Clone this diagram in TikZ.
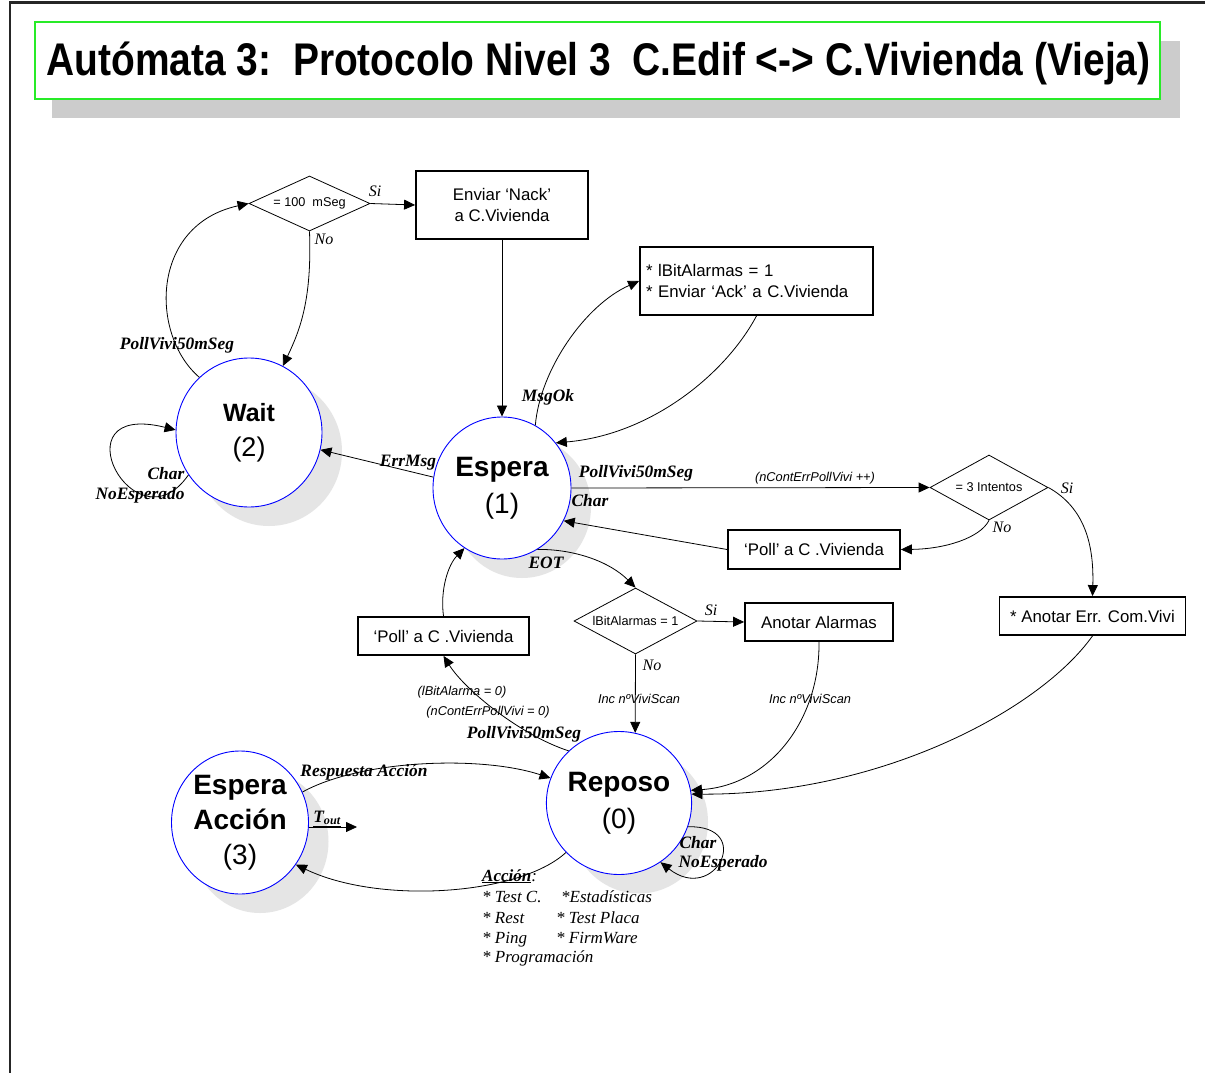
\documentclass[tikz,border=0pt]{standalone}
\usepackage{fontspec}
\setmainfont{Liberation Sans}
\newfontfamily\serifit{Liberation Serif}
\newfontfamily\titlefont{Liberation Sans}[FakeStretch=0.85]
\usetikzlibrary{shapes.geometric,arrows.meta}
\definecolor{framegreen}{RGB}{40,235,40}
\begin{document}
\begin{tikzpicture}[x=1pt,y=-1pt,
  lbl/.style={font=\fontsize{17.4}{19}\selectfont\serifit\bfseries\itshape, inner sep=0},
  yn/.style={font=\fontsize{16}{18}\selectfont\serifit\itshape, inner sep=0},
  smallnote/.style={font=\fontsize{12.8}{14}\selectfont\itshape, inner sep=0},
  actline/.style={font=\fontsize{17}{19}\selectfont\serifit\itshape, inner sep=0, anchor=base west},
  box/.style={draw, line width=1.8pt, fill=white, inner sep=0, font=\fontsize{16.8}{21}\selectfont, align=center},
  dec/.style={draw, shape=diamond, shape aspect=2, inner sep=0, line width=0.8pt, fill=white, font=\fontsize{12.7}{14}\selectfont},
  stnode/.style={draw=blue, line width=0.9pt, ellipse, fill=white, inner sep=0, align=center},
  stshadow/.style={ellipse, fill=black!10, inner sep=0},
  arr/.style={-{Triangle[length=11pt,width=10pt]}, line width=0.8pt}
]
\useasboundingbox (0,0) rectangle (1205,1073);
\fill[white] (0,0) rectangle (1205,1073);

% page frame
\draw[line width=2.2pt, black!85] (10,1073) -- (10,2.5) -- (1205,2.5);

% title banner
\fill[black!20] (52,41) rectangle (1180,118);
\node[draw=framegreen, line width=1.2pt, fill=white, minimum width=1125pt, minimum height=77pt, inner sep=0] (title) at (597.5,60.5) {};
\node[font=\titlefont\bfseries\fontsize{45.8}{50}\selectfont, inner sep=0] (titletext) at (598.5,63)
  {Autómata 3:\ \ Protocolo Nivel 3\ \ C.Edif <-> C.Vivienda (Vieja)};

% state shadows
\node[stshadow, minimum width=146pt, minimum height=149pt] (waitsh) at (269,451.5) {};
\node[stshadow, minimum width=138pt, minimum height=142pt] (esperash) at (522,507) {};
\node[stshadow, minimum width=138pt, minimum height=143pt] (reposh) at (639,822) {};
\node[stshadow, minimum width=137pt, minimum height=143pt] (accionsh) at (260,841.5) {};

% states
\node[stnode, minimum width=146pt, minimum height=149pt, font=\fontsize{25}{35}\selectfont] (wait) at (249,432.5)
  {{\bfseries Wait}\\{\fontsize{27}{35}\selectfont (2)}};
\node[stnode, minimum width=138pt, minimum height=142pt, font=\fontsize{28}{37}\selectfont] (espera) at (502,488)
  {{\bfseries Espera}\\(1)};
\node[stnode, minimum width=138pt, minimum height=143pt, font=\fontsize{28}{37}\selectfont] (reposo) at (619,803)
  {{\bfseries Reposo}\\(0)};
\node[stnode, minimum width=137pt, minimum height=143pt, font=\fontsize{28}{35}\selectfont] (accion) at (240,822.5)
  {{\bfseries Espera}\\{\bfseries Acción}\\(3)};

% decisions
\node[dec, minimum width=121pt, minimum height=55pt] (d100) at (309.5,203.5) {= 100\ \ mSeg};
\node[dec, minimum width=118pt, minimum height=65pt] (d3) at (989,487.5) {= 3 Intentos};
\node[dec, minimum width=123pt, minimum height=66pt] (dBit) at (635.5,621) {lBitAlarmas = 1};

% action boxes
\node[box, minimum width=172pt, minimum height=68pt] (nack) at (502,205) {Enviar ‘Nack’\\a C.Vivienda};
\node[box, minimum width=233pt, minimum height=68pt, align=left, text width=221pt] (ack) at (756.5,281)
  {{*} lBitAlarmas = 1\\{}{*} Enviar ‘Ack’ a C.Vivienda};
\node[box, minimum width=172pt, minimum height=39pt] (pollR) at (814,549.5) {‘Poll’ a C .Vivienda};
\node[box, minimum width=186pt, minimum height=38pt] (anotErr) at (1092.5,616) {* Anotar Err. Com.Vivi};
\node[box, minimum width=148pt, minimum height=38pt] (anotAl) at (819,622) {Anotar Alarmas};
\node[box, minimum width=171pt, minimum height=38pt] (pollL) at (443.5,636) {‘Poll’ a C .Vivienda};

% transitions
\draw[arr] (d100.east) -- (nack.west);
\draw[arr] (d100.south) .. controls (312,300) and (300,330) .. (wait.63);
\draw[arr] (wait.132) .. controls (150,335) and (150,225) .. (d100.west);
\draw[arr] (wait.215) .. controls (135,552) and (55,400) .. (wait.178);
\draw[arr] (nack.south) -- (espera.north);
\draw[arr] (espera.62) .. controls (540,370) and (585,305) .. (ack.west);
\draw[arr] (ack.south) .. controls (725,375) and (650,435) .. (espera.40);
\draw[arr] (espera.171) -- (wait);
\draw[arr] (espera.east) -- (d3.west);
\draw[arr] (d3.south) .. controls (980,538) and (945,549) .. (pollR.east);
\draw[arr] (pollR.west) -- (espera.-28);
\draw[arr] (d3.east) .. controls (1085,508) and (1094,545) .. (anotErr.north);
\draw[arr] (espera.-60) .. controls (575,549) and (610,562) .. (dBit.north);
\draw[arr] (dBit.east) -- (anotAl.west);
\draw[arr] (dBit.south) -- (reposo.77);
\draw[arr] (anotAl.south) .. controls (820,720) and (770,785) .. (reposo.10);
\draw[arr] (anotErr.south) .. controls (1040,710) and (880,795) .. (reposo.7);
\draw[arr] (reposo.134) .. controls (520,735) and (465,690) .. (pollL.south);
\draw[arr] (pollL.north) .. controls (440,590) and (448,565) .. (espera.-122);
\draw[arr] (accion.26) .. controls (360,760) and (480,755) .. (reposo.160);
\draw[arr] (reposo.223) .. controls (520,895) and (380,905) .. (accion.-37);
\coordinate (toutend) at (357,827);
\draw[arr] (accion.east |- toutend) -- (toutend);
\draw[arr] (reposo.-19) .. controls (755,825) and (715,905) .. (reposo.-55);

% transition labels
\node[yn] (si1) at (375,191) {Si};
\node[yn] (no1) at (324,239) {No};
\node[lbl] (poll1) at (177,345) {PollVivi50mSeg};
\node[lbl] (char1) at (166,474) {Char};
\node[lbl] (noesp1) at (140,495) {NoEsperado};
\node[lbl] (msgok) at (548,397) {MsgOk};
\node[lbl] (errmsg) at (408,463) {ErrMsg};
\node[lbl] (poll2) at (636,473) {PollVivi50mSeg};
\node[lbl] (char2) at (590,501) {Char};
\node[smallnote] (ncont) at (815,478) {(nContErrPollVivi ++)};
\node[yn] (si2) at (1067,488) {Si};
\node[yn] (no2) at (1002,527) {No};
\node[lbl] (eot) at (546,563) {EOT};
\node[yn] (si3) at (711,610) {Si};
\node[yn] (no3) at (652,665) {No};
\node[smallnote] (inc1) at (639,699) {Inc nºViviScan};
\node[smallnote] (inc2) at (810,699) {Inc nºViviScan};
\node[smallnote] (lbit0) at (462,692) {(lBitAlarma = 0)};
\node[smallnote] (ncont0) at (488,712) {(nContErrPollVivi = 0)};
\node[lbl] (poll3) at (524,734) {PollVivi50mSeg};
\node[lbl] (resp) at (364,772) {Respuesta Acción};
\node[lbl] (tout) at (327,819) {\underline{T\textsubscript{out}}};
\node[lbl] (char3) at (698,843) {Char};
\node[lbl] (noesp3) at (723,863) {NoEsperado};

% list of actions
\node[actline] (act0) at (482,881) {\underline{\bfseries Acción}:};
\node[actline] (act1) at (482,902) {\makebox[79pt][l]{* Test C.}*Estadísticas};
\node[actline] (act2) at (482,923) {\makebox[74pt][l]{* Rest}* Test Placa};
\node[actline] (act3) at (482,943) {\makebox[74pt][l]{* Ping}* FirmWare};
\node[actline] (act4) at (482,962) {* Programación};
\end{tikzpicture}
\end{document}
